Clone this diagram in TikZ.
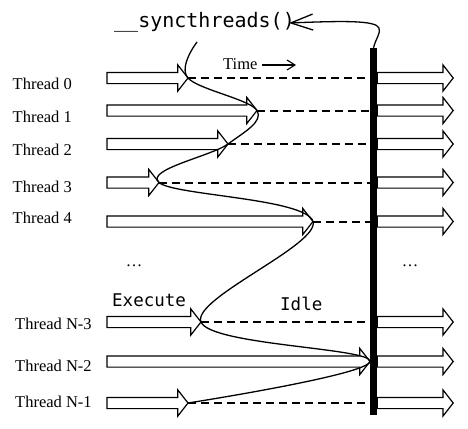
\documentclass[tikz,border=0pt]{standalone}
\usepackage{fontspec}
\setmainfont{Liberation Serif}
\newfontfamily\monofont{DejaVu Sans Mono}
\usetikzlibrary{shapes.arrows,arrows.meta}
\tikzset{
  thr/.style={shape=single arrow, draw=black, fill=white, line width=1.2pt,
    single arrow head extend=7.5pt, single arrow tip angle=104,
    single arrow head indent=0pt, inner xsep=0pt, inner ysep=5pt,
    minimum width=0pt, minimum height=#1, anchor=tail, outer sep=0pt},
  lbl/.style={anchor=base west, inner sep=0pt, font=\fontsize{16.5}{18}\selectfont},
  mono/.style={inner sep=0pt, font=\fontsize{17.5}{20}\monofont},
  idle/.style={line width=2pt, dash pattern=on 8pt off 5pt},
  wave/.style={line width=1.3pt},
}
\begin{document}
\begin{tikzpicture}[x=1pt,y=-1pt]
\path[use as bounding box] (0,0) rectangle (468,428);
% sync bar
\node[fill=black, inner sep=0pt, minimum width=7pt, minimum height=367pt] (bar) at (373.5,231.5) {};
% labels
\node[lbl] (l0) at (12.5,89) {Thread 0};
\node[lbl] (l1) at (12.5,122) {Thread 1};
\node[lbl] (l2) at (12.5,155) {Thread 2};
\node[lbl] (l3) at (12.5,192) {Thread 3};
\node[lbl] (l4) at (12.5,223) {Thread 4};
\node[lbl] (l5) at (15,329) {Thread N-3};
\node[lbl] (l6) at (15,371.5) {Thread N-2};
\node[lbl] (l7) at (15,407) {Thread N-1};
% execute arrows
\node[thr=81pt]  (a0) at (107,78) {};
\node[thr=150pt] (a1) at (107,110.5) {};
\node[thr=121pt] (a2) at (107,144) {};
\node[thr=52pt]  (a3) at (107,182.5) {};
\node[thr=206pt] (a4) at (107,221.5) {};
\node[thr=94pt]  (a5) at (107,322) {};
\node[thr=263pt] (a6) at (107,361.5) {};
\node[thr=81pt]  (a7) at (107,403) {};
% right arrows
\foreach \i in {0,...,7}{
  \node[thr=76pt] (r\i) at (bar.east |- a\i.tail) {};
}
% idle dashes
\foreach \i in {0,1,2,3,4,5,7}{
  \draw[idle] (a\i.tip) -- (a\i.tip -| bar.west);
}
% dots
\node[lbl, anchor=base] (d1) at (134,266) {\dots};
\node[lbl, anchor=base] (d2) at (410,266) {\dots};
% texts
\node[mono, anchor=base west] (ex) at (112,306) {Execute};
\node[mono, anchor=base west] (id) at (280,310) {Idle};
\node[inner sep=0pt, anchor=base west, font=\fontsize{20}{22}\monofont] (sync) at (114,27.5) {\_\_syncthreads()};
\node[lbl] (time) at (223,70) {Time};
\coordinate (t1) at (262,65);
\coordinate (t2) at (296,65);
\draw[line width=1.1pt, -{Straight Barb[length=8pt,width=10pt]}] (t1) -- (t2);
% wave
\coordinate (cs) at (197,42);
\draw[wave] plot[smooth, tension=0.6] coordinates {(cs) (a0.tip) (a1.tip) (a2.tip) (a3.tip) (a4.tip) (a5.tip) (a6.tip) (a7.tip)};
% sync arrow
\coordinate (bt) at (bar.north);
\draw[line width=1.3pt, -{Straight Barb[length=22pt,width=16pt]}] (bt) .. controls (376,38) and (381,33) .. (379,28) .. controls (376,20) and (340,21) .. (289,23);
\end{tikzpicture}
\end{document}
